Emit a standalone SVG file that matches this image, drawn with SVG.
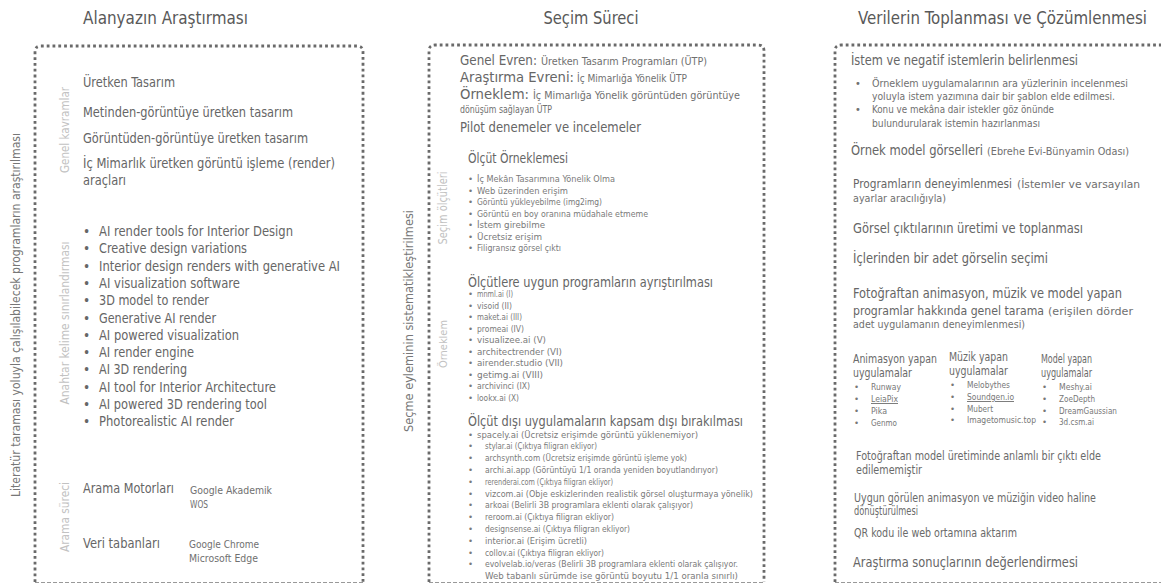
<svg xmlns="http://www.w3.org/2000/svg" width="1161" height="585" viewBox="0 0 1161 585">
<style>
text{font-family:"DejaVu Sans Condensed","DejaVu Sans","Liberation Sans",sans-serif;font-stretch:condensed;fill:#666}
.t{font-size:17.5px;fill:#595959}
.m{font-size:13.5px}
.s{font-size:11px;fill:#707070}
.xs{font-size:9.5px;fill:#7a7a7a}
.b{font-size:9.5px;fill:#777}
.h{font-size:11.5px;fill:#6a6a6a}
.vo{font-size:12.5px;fill:#777;text-anchor:middle}
.vs{font-size:12px;fill:#c2c2c2;text-anchor:middle}
.dot{fill:none;stroke:#6a6a6a;stroke-width:2.8;stroke-dasharray:2.8 3}
.dash{fill:none;stroke:#999;stroke-width:1;stroke-dasharray:4 2}
.u{text-decoration:underline}
</style>
<rect width="1161" height="585" fill="#fff"/>
<g id="connectors"/>

<g id="col1">
<text class="t" x="83" y="24" textLength="165" lengthAdjust="spacingAndGlyphs">Alanyazın Araştırması</text>
<path class="dot" d="M35,582 V52 Q35,46 41,46 H357 Q363,46 363,52 V582"/>
<path class="dash" d="M35,582.5 H363"/>
<text class="vo" transform="translate(19.5,315) rotate(-90)" textLength="364" lengthAdjust="spacingAndGlyphs">Literatür taraması yoluyla çalışılabilecek programların araştırılması</text>
<g id="genel">
<text class="vs" transform="translate(69,130) rotate(-90)" textLength="86" lengthAdjust="spacingAndGlyphs">Genel kavramlar</text>
<text class="m" x="83" y="87" textLength="92" lengthAdjust="spacingAndGlyphs">Üretken Tasarım</text>
<text class="m" x="83" y="117" textLength="210" lengthAdjust="spacingAndGlyphs">Metinden-görüntüye üretken tasarım</text>
<text class="m" x="83" y="143" textLength="225" lengthAdjust="spacingAndGlyphs">Görüntüden-görüntüye üretken tasarım</text>
<text class="m" x="83" y="168" textLength="252" lengthAdjust="spacingAndGlyphs">İç Mimarlık üretken görüntü işleme (render)</text>
<text class="m" x="83" y="185" textLength="43" lengthAdjust="spacingAndGlyphs">araçları</text>
</g>
<g id="anahtar">
<text class="vs" transform="translate(69,323) rotate(-90)" textLength="163" lengthAdjust="spacingAndGlyphs">Anahtar kelime sınırlandırması</text>
<text class="m" x="83" y="236">•</text><text class="m" x="99" y="236" textLength="194" lengthAdjust="spacingAndGlyphs">AI render tools for Interior Design</text>
<text class="m" x="83" y="253.3">•</text><text class="m" x="99" y="253.3" textLength="148" lengthAdjust="spacingAndGlyphs">Creative design variations</text>
<text class="m" x="83" y="270.6">•</text><text class="m" x="99" y="270.6" textLength="241" lengthAdjust="spacingAndGlyphs">Interior design renders with generative AI</text>
<text class="m" x="83" y="287.9">•</text><text class="m" x="99" y="287.9" textLength="141" lengthAdjust="spacingAndGlyphs">AI visualization software</text>
<text class="m" x="83" y="305.2">•</text><text class="m" x="99" y="305.2" textLength="110" lengthAdjust="spacingAndGlyphs">3D model to render</text>
<text class="m" x="83" y="322.5">•</text><text class="m" x="99" y="322.5" textLength="117" lengthAdjust="spacingAndGlyphs">Generative AI render</text>
<text class="m" x="83" y="339.8">•</text><text class="m" x="99" y="339.8" textLength="140" lengthAdjust="spacingAndGlyphs">AI powered visualization</text>
<text class="m" x="83" y="357.1">•</text><text class="m" x="99" y="357.1" textLength="95" lengthAdjust="spacingAndGlyphs">AI render engine</text>
<text class="m" x="83" y="374.4">•</text><text class="m" x="99" y="374.4" textLength="88" lengthAdjust="spacingAndGlyphs">AI 3D rendering</text>
<text class="m" x="83" y="391.7">•</text><text class="m" x="99" y="391.7" textLength="177" lengthAdjust="spacingAndGlyphs">AI tool for Interior Architecture</text>
<text class="m" x="83" y="409">•</text><text class="m" x="99" y="409" textLength="168" lengthAdjust="spacingAndGlyphs">AI powered 3D rendering tool</text>
<text class="m" x="83" y="426.3">•</text><text class="m" x="99" y="426.3" textLength="135" lengthAdjust="spacingAndGlyphs">Photorealistic AI render</text>
</g>
<g id="arama">
<text class="vs" transform="translate(69,517) rotate(-90)" textLength="70" lengthAdjust="spacingAndGlyphs">Arama süreci</text>
<text class="m" x="83" y="493" textLength="91" lengthAdjust="spacingAndGlyphs">Arama Motorları</text>
<text class="s" x="190" y="494" textLength="82" lengthAdjust="spacingAndGlyphs">Google Akademik</text>
<text class="s" x="190" y="508" textLength="18" lengthAdjust="spacingAndGlyphs">WOS</text>
<text class="m" x="83" y="548" textLength="77" lengthAdjust="spacingAndGlyphs">Veri tabanları</text>
<text class="s" x="189" y="548" textLength="70" lengthAdjust="spacingAndGlyphs">Google Chrome</text>
<text class="s" x="189" y="562" textLength="69" lengthAdjust="spacingAndGlyphs">Microsoft Edge</text>
</g>
</g>

<g id="col2">
<text class="t" x="591" y="24" text-anchor="middle" textLength="95" lengthAdjust="spacingAndGlyphs">Seçim Süreci</text>
<path class="dot" d="M429,582 V51 Q429,45 435,45 H758 Q764,45 764,51 V582"/>
<path class="dash" d="M429,582.5 H764"/>
<text class="vo" transform="translate(413,321) rotate(-90)" textLength="222" lengthAdjust="spacingAndGlyphs">Seçme eyleminin sistematikleştirilmesi</text>
<g id="evren">
<text class="m" x="460" y="65" textLength="77" lengthAdjust="spacingAndGlyphs">Genel Evren:</text>
<text class="s" x="541" y="65" textLength="166" lengthAdjust="spacingAndGlyphs">Üretken Tasarım Programları (ÜTP)</text>
<text class="m" x="460" y="82" textLength="114" lengthAdjust="spacingAndGlyphs">Araştırma Evreni:</text>
<text class="s" x="577" y="82" textLength="110" lengthAdjust="spacingAndGlyphs">İç Mimarlığa Yönelik ÜTP</text>
<text class="m" x="460" y="99" textLength="69" lengthAdjust="spacingAndGlyphs">Örneklem:</text>
<text class="s" x="533" y="99" textLength="207" lengthAdjust="spacingAndGlyphs">İç Mimarlığa Yönelik görüntüden görüntüye</text>
<text class="s" x="460" y="113" textLength="92" lengthAdjust="spacingAndGlyphs">dönüşüm sağlayan ÜTP</text>
<text class="m" x="460" y="132" textLength="181" lengthAdjust="spacingAndGlyphs">Pilot denemeler ve incelemeler</text>
</g>
<g id="olcut">
<text class="vs" transform="translate(447,208) rotate(-90)" style="font-size:12.5px" textLength="73" lengthAdjust="spacingAndGlyphs">Seçim ölçütleri</text>
<text class="m" x="468" y="163" textLength="100" lengthAdjust="spacingAndGlyphs">Ölçüt Örneklemesi</text>
<text class="xs" x="468" y="182">•</text><text class="xs" x="477" y="182" textLength="138" lengthAdjust="spacingAndGlyphs">İç Mekân Tasarımına Yönelik Olma</text>
<text class="xs" x="468" y="193.5">•</text><text class="xs" x="477" y="193.5" textLength="91" lengthAdjust="spacingAndGlyphs">Web üzerinden erişim</text>
<text class="xs" x="468" y="205">•</text><text class="xs" x="477" y="205" textLength="125" lengthAdjust="spacingAndGlyphs">Görüntü yükleyebilme (img2img)</text>
<text class="xs" x="468" y="216.5">•</text><text class="xs" x="477" y="216.5" textLength="171" lengthAdjust="spacingAndGlyphs">Görüntü en boy oranına müdahale etmeme</text>
<text class="xs" x="468" y="228">•</text><text class="xs" x="477" y="228" textLength="68" lengthAdjust="spacingAndGlyphs">İstem girebilme</text>
<text class="xs" x="468" y="239.5">•</text><text class="xs" x="477" y="239.5" textLength="65" lengthAdjust="spacingAndGlyphs">Ücretsiz erişim</text>
<text class="xs" x="468" y="251">•</text><text class="xs" x="477" y="251" textLength="84" lengthAdjust="spacingAndGlyphs">Filigransız görsel çıktı</text>
</g>
<g id="orneklem">
<text class="vs" transform="translate(447,344) rotate(-90)" style="font-size:11px" textLength="48" lengthAdjust="spacingAndGlyphs">Örneklem</text>
<text class="m" x="468" y="287" textLength="245" lengthAdjust="spacingAndGlyphs">Ölçütlere uygun programların ayrıştırılması</text>
<text class="xs" x="468" y="297">•</text><text class="xs" x="477" y="297" textLength="36" lengthAdjust="spacingAndGlyphs">mnml.ai (I)</text>
<text class="xs" x="468" y="308.5">•</text><text class="xs" x="477" y="308.5" textLength="35" lengthAdjust="spacingAndGlyphs">visoid (II)</text>
<text class="xs" x="468" y="320">•</text><text class="xs" x="477" y="320" textLength="45" lengthAdjust="spacingAndGlyphs">maket.ai (III)</text>
<text class="xs" x="468" y="331.5">•</text><text class="xs" x="477" y="331.5" textLength="47" lengthAdjust="spacingAndGlyphs">promeai (IV)</text>
<text class="xs" x="468" y="343">•</text><text class="xs" x="477" y="343" textLength="69" lengthAdjust="spacingAndGlyphs">visualizee.ai (V)</text>
<text class="xs" x="468" y="354.5">•</text><text class="xs" x="477" y="354.5" textLength="85" lengthAdjust="spacingAndGlyphs">architectrender (VI)</text>
<text class="xs" x="468" y="366">•</text><text class="xs" x="477" y="366" textLength="86" lengthAdjust="spacingAndGlyphs">airender.studio (VII)</text>
<text class="xs" x="468" y="377.5">•</text><text class="xs" x="477" y="377.5" textLength="66" lengthAdjust="spacingAndGlyphs">getimg.ai (VIII)</text>
<text class="xs" x="468" y="389">•</text><text class="xs" x="477" y="389" textLength="53" lengthAdjust="spacingAndGlyphs">archivinci (IX)</text>
<text class="xs" x="468" y="400.5">•</text><text class="xs" x="477" y="400.5" textLength="42" lengthAdjust="spacingAndGlyphs">lookx.ai (X)</text>
</g>
<g id="disi">
<text class="m" x="468" y="426" textLength="275" lengthAdjust="spacingAndGlyphs">Ölçüt dışı uygulamaların kapsam dışı bırakılması</text>
<text class="xs" x="468" y="437.5">•</text><text class="xs" x="477" y="437.5" textLength="221" lengthAdjust="spacingAndGlyphs">spacely.ai (Ücretsiz erişimde görüntü yüklenemiyor)</text>
<text class="xs" x="468" y="449.3">•</text><text class="xs" x="485" y="449.3" textLength="112" lengthAdjust="spacingAndGlyphs">stylar.ai (Çıktıya filigran ekliyor)</text>
<text class="xs" x="468" y="461.1">•</text><text class="xs" x="485" y="461.1" textLength="202" lengthAdjust="spacingAndGlyphs">archsynth.com (Ücretsiz erişimde görüntü işleme yok)</text>
<text class="xs" x="468" y="472.9">•</text><text class="xs" x="485" y="472.9" textLength="233" lengthAdjust="spacingAndGlyphs">archi.ai.app (Görüntüyü 1/1 oranda yeniden boyutlandırıyor)</text>
<text class="xs" x="468" y="484.7">•</text><text class="xs" x="485" y="484.7" textLength="128" lengthAdjust="spacingAndGlyphs">rerenderai.com (Çıktıya filigran ekliyor)</text>
<text class="xs" x="468" y="496.5">•</text><text class="xs" x="485" y="496.5" textLength="268" lengthAdjust="spacingAndGlyphs">vizcom.ai (Obje eskizlerinden realistik görsel oluşturmaya yönelik)</text>
<text class="xs" x="468" y="508.3">•</text><text class="xs" x="485" y="508.3" textLength="208" lengthAdjust="spacingAndGlyphs">arkoai (Belirli 3B programlara eklenti olarak çalışıyor)</text>
<text class="xs" x="468" y="520.1">•</text><text class="xs" x="485" y="520.1" textLength="129" lengthAdjust="spacingAndGlyphs">reroom.ai (Çıktıya filigran ekliyor)</text>
<text class="xs" x="468" y="531.9">•</text><text class="xs" x="485" y="531.9" textLength="145" lengthAdjust="spacingAndGlyphs">designsense.ai (Çıktıya filigran ekliyor)</text>
<text class="xs" x="468" y="543.7">•</text><text class="xs" x="485" y="543.7" textLength="102" lengthAdjust="spacingAndGlyphs">interior.ai (Erişim ücretli)</text>
<text class="xs" x="468" y="555.5">•</text><text class="xs" x="485" y="555.5" textLength="119" lengthAdjust="spacingAndGlyphs">collov.ai (Çıktıya filigran ekliyor)</text>
<text class="xs" x="468" y="567.3">•</text><text class="xs" x="485" y="567.3" textLength="253" lengthAdjust="spacingAndGlyphs">evolvelab.io/veras (Belirli 3B programlara eklenti olarak çalışıyor.</text>
<text class="xs" x="485" y="579" textLength="253" lengthAdjust="spacingAndGlyphs">Web tabanlı sürümde ise görüntü boyutu 1/1 oranla sınırlı)</text>
</g>
</g>

<g id="col3">
<text class="t" x="858" y="24" textLength="289" lengthAdjust="spacingAndGlyphs">Verilerin Toplanması ve Çözümlenmesi</text>
<path class="dot" d="M835,582 V51 Q835,45 841,45 H1161"/>
<path class="dash" d="M835,582.5 H1161"/>
<g id="istem">
<text class="m" x="851" y="65" textLength="227" lengthAdjust="spacingAndGlyphs">İstem ve negatif istemlerin belirlenmesi</text>
<text class="s" x="855" y="87">•</text><text class="s" x="872" y="87" textLength="256" lengthAdjust="spacingAndGlyphs">Örneklem uygulamalarının ara yüzlerinin incelenmesi</text>
<text class="s" x="872" y="100" textLength="243" lengthAdjust="spacingAndGlyphs">yoluyla istem yazımına dair bir şablon elde edilmesi.</text>
<text class="s" x="855" y="113">•</text><text class="s" x="872" y="113" textLength="182" lengthAdjust="spacingAndGlyphs">Konu ve mekâna dair istekler göz önünde</text>
<text class="s" x="872" y="127" textLength="168" lengthAdjust="spacingAndGlyphs">bulundurularak istemin hazırlanması</text>
</g>
<g id="ornek">
<text class="m" x="851" y="155" textLength="132" lengthAdjust="spacingAndGlyphs">Örnek model görselleri</text>
<text class="s" x="987" y="155" textLength="142" lengthAdjust="spacingAndGlyphs">(Ebrehe Evi-Bünyamin Odası)</text>
</g>
<g id="deneyim">
<text class="m" x="853" y="188" style="font-size:12px" textLength="159" lengthAdjust="spacingAndGlyphs">Programların deneyimlenmesi</text>
<text class="s" x="1017" y="188" style="font-size:10.5px" textLength="123" lengthAdjust="spacingAndGlyphs">(İstemler ve varsayılan</text>
<text class="s" x="853" y="202" textLength="93" lengthAdjust="spacingAndGlyphs">ayarlar aracılığıyla)</text>
</g>
<text class="m" x="853" y="233" textLength="230" lengthAdjust="spacingAndGlyphs">Görsel çıktılarının üretimi ve toplanması</text>
<text class="m" x="853" y="263" textLength="195" lengthAdjust="spacingAndGlyphs">İçlerinden bir adet görselin seçimi</text>
<g id="tarama">
<text class="m" x="853" y="298" textLength="269" lengthAdjust="spacingAndGlyphs">Fotoğraftan animasyon, müzik ve model yapan</text>
<text class="m" x="853" y="315" style="font-size:12px" textLength="191" lengthAdjust="spacingAndGlyphs">programlar hakkında genel tarama</text>
<text class="s" x="1048" y="315" style="font-size:10.5px" textLength="85" lengthAdjust="spacingAndGlyphs">(erişilen dörder</text>
<text class="s" x="853" y="328" textLength="172" lengthAdjust="spacingAndGlyphs">adet uygulamanın deneyimlenmesi)</text>
</g>
<g id="animasyon">
<text class="h" x="853" y="363" textLength="84" lengthAdjust="spacingAndGlyphs">Animasyon yapan</text>
<text class="h" x="853" y="377" textLength="59" lengthAdjust="spacingAndGlyphs">uygulamalar</text>
<text class="b" x="854" y="390">•</text><text class="b" x="871" y="390" textLength="30" lengthAdjust="spacingAndGlyphs">Runway</text>
<text class="b" x="854" y="402">•</text><text class="b u" x="871" y="402" textLength="27" lengthAdjust="spacingAndGlyphs">LeiaPix</text>
<text class="b" x="854" y="414">•</text><text class="b" x="871" y="414" textLength="16" lengthAdjust="spacingAndGlyphs">Pika</text>
<text class="b" x="854" y="426">•</text><text class="b" x="871" y="426" textLength="26" lengthAdjust="spacingAndGlyphs">Genmo</text>
</g>
<g id="muzik">
<text class="h" x="949" y="361" textLength="59" lengthAdjust="spacingAndGlyphs">Müzik yapan</text>
<text class="h" x="949" y="375" textLength="59" lengthAdjust="spacingAndGlyphs">uygulamalar</text>
<text class="b" x="950" y="388">•</text><text class="b" x="967" y="388" textLength="43" lengthAdjust="spacingAndGlyphs">Melobythes</text>
<text class="b" x="950" y="400">•</text><text class="b u" x="967" y="400" textLength="47" lengthAdjust="spacingAndGlyphs">Soundgen.io</text>
<text class="b" x="950" y="411.5">•</text><text class="b" x="967" y="411.5" textLength="26" lengthAdjust="spacingAndGlyphs">Mubert</text>
<text class="b" x="950" y="423">•</text><text class="b" x="967" y="423" textLength="69" lengthAdjust="spacingAndGlyphs">Imagetomusic.top</text>
</g>
<g id="model">
<text class="h" x="1041" y="363" textLength="51" lengthAdjust="spacingAndGlyphs">Model yapan</text>
<text class="h" x="1041" y="377" textLength="51" lengthAdjust="spacingAndGlyphs">uygulamalar</text>
<text class="b" x="1042" y="390">•</text><text class="b" x="1059" y="390" textLength="33" lengthAdjust="spacingAndGlyphs">Meshy.ai</text>
<text class="b" x="1042" y="402">•</text><text class="b" x="1059" y="402" textLength="36" lengthAdjust="spacingAndGlyphs">ZoeDepth</text>
<text class="b" x="1042" y="413.5">•</text><text class="b" x="1059" y="413.5" textLength="58" lengthAdjust="spacingAndGlyphs">DreamGaussian</text>
<text class="b" x="1042" y="425">•</text><text class="b" x="1059" y="425" textLength="35" lengthAdjust="spacingAndGlyphs">3d.csm.ai</text>
</g>
<text class="h" x="856" y="460" textLength="245" lengthAdjust="spacingAndGlyphs">Fotoğraftan model üretiminde anlamlı bir çıktı elde</text>
<text class="h" x="856" y="474" textLength="66" lengthAdjust="spacingAndGlyphs">edilememiştir</text>
<text class="h" x="854" y="502" textLength="242" lengthAdjust="spacingAndGlyphs">Uygun görülen animasyon ve müziğin video haline</text>
<text class="h" x="854" y="515" textLength="64" lengthAdjust="spacingAndGlyphs">dönüştürülmesi</text>
<text class="h" x="854" y="537" textLength="163" lengthAdjust="spacingAndGlyphs">QR kodu ile web ortamına aktarım</text>
<text class="m" x="853" y="567" textLength="225" lengthAdjust="spacingAndGlyphs">Araştırma sonuçlarının değerlendirmesi</text>
</g>
</svg>
